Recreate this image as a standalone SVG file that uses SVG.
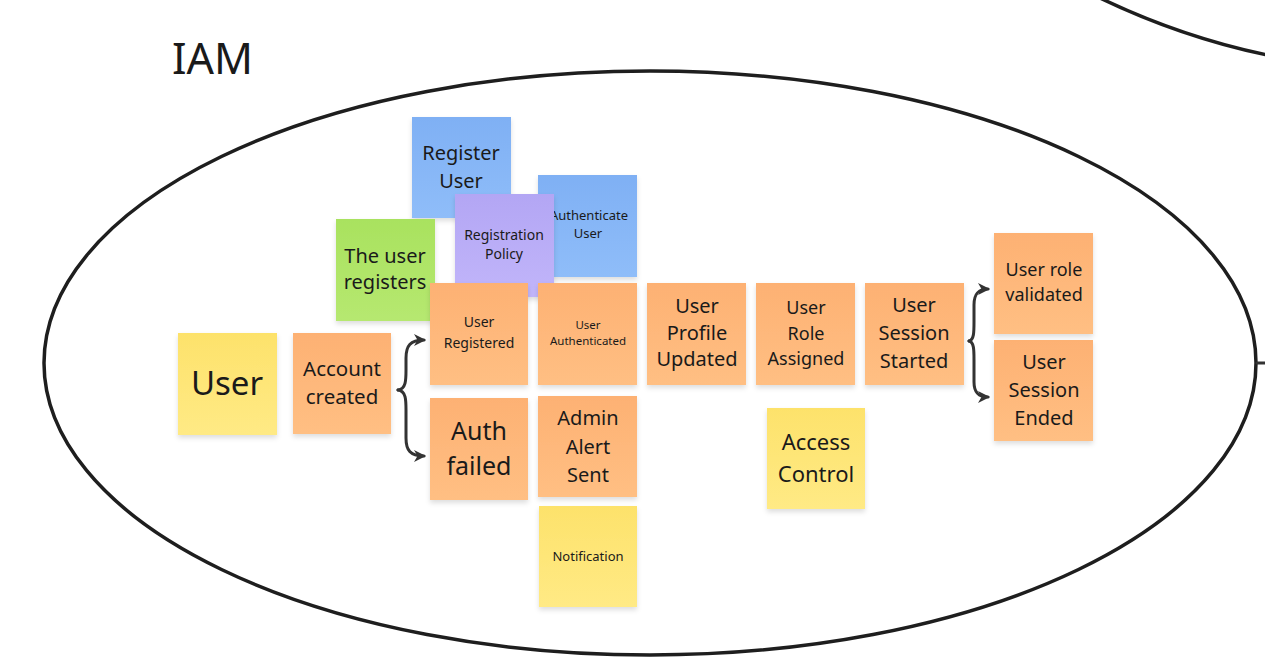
<svg xmlns="http://www.w3.org/2000/svg" width="1265" height="672" viewBox="0 0 1265 672">
<defs>
<linearGradient id="gO" x1="0" y1="0" x2="0" y2="1"><stop offset="0" stop-color="#fdb173"/><stop offset="1" stop-color="#ffbf83"/></linearGradient>
<linearGradient id="gB" x1="0" y1="0" x2="0" y2="1"><stop offset="0" stop-color="#7fb0f4"/><stop offset="1" stop-color="#8fbdf9"/></linearGradient>
<linearGradient id="gP" x1="0" y1="0" x2="0" y2="1"><stop offset="0" stop-color="#b3a6f4"/><stop offset="1" stop-color="#c1b5fa"/></linearGradient>
<linearGradient id="gG" x1="0" y1="0" x2="0" y2="1"><stop offset="0" stop-color="#a9e25f"/><stop offset="1" stop-color="#b6e870"/></linearGradient>
<linearGradient id="gY" x1="0" y1="0" x2="0" y2="1"><stop offset="0" stop-color="#fde26b"/><stop offset="1" stop-color="#ffea85"/></linearGradient>
<filter id="sh" x="-10%" y="-10%" width="130%" height="130%"><feDropShadow dx="0" dy="3" stdDeviation="2.5" flood-color="#000" flood-opacity="0.13"/></filter>
<marker id="ar" viewBox="0 0 12 12" refX="10" refY="6" markerWidth="12" markerHeight="12" markerUnits="userSpaceOnUse" orient="auto"><path d="M0,0 L12,6 L0,12 L3.5,6 z" fill="#333"/></marker>
</defs>
<style>
.s{filter:url(#sh)}
.o{fill:url(#gO)}.b{fill:url(#gB)}.p{fill:url(#gP)}.g{fill:url(#gG)}.y{fill:url(#gY)}
text{font-family:"Noto Sans","Open Sans","Liberation Sans",sans-serif;fill:#1a1a1a;text-anchor:middle}
.ln{fill:none;stroke:#1e1e1e;stroke-width:3.5}
.cn{fill:none;stroke:#333;stroke-width:3;stroke-linecap:round}
</style>
<rect width="1265" height="672" fill="#fff"/>
<g id="boundaries">
<ellipse class="ln" cx="650" cy="363" rx="606" ry="292"/>
<path class="ln" d="M1100,-2 C1150,22 1205,42 1267,55"/>
<text x="172" y="74" style="font-size:43px;text-anchor:start">IAM</text>
</g>
<g id="register-user"><rect class="s b" x="412" y="117" width="99" height="101"/><text x="461" y="160" style="font-size:20px">Register</text><text x="461" y="188" style="font-size:20px">User</text></g>
<g id="authenticate-user"><rect class="s b" x="538" y="175" width="99" height="102"/><text x="589" y="220" style="font-size:13px">Authenticate</text><text x="588" y="238" style="font-size:13px">User</text></g>
<g id="registration-policy"><rect class="s p" x="455" y="194" width="99" height="103"/><text x="504" y="240" style="font-size:14px">Registration</text><text x="504" y="259" style="font-size:14px">Policy</text></g>
<g id="the-user-registers"><rect class="s g" x="336" y="219" width="99" height="102"/><text x="385" y="263" style="font-size:20px">The user</text><text x="385" y="289" style="font-size:20px">registers</text></g>
<g id="user"><rect class="s y" x="178" y="333" width="99" height="102"/><text x="227" y="395" style="font-size:33px">User</text></g>
<g id="account-created"><rect class="s o" x="293" y="333" width="98" height="101"/><text x="342" y="376" style="font-size:20.5px">Account</text><text x="342" y="404" style="font-size:20.5px">created</text></g>
<g id="user-registered"><rect class="s o" x="430" y="283" width="98" height="102"/><text x="479" y="327" style="font-size:14px">User</text><text x="479" y="348" style="font-size:14px">Registered</text></g>
<g id="user-authenticated"><rect class="s o" x="538" y="283" width="99" height="102"/><text x="588" y="329" style="font-size:11.5px">User</text><text x="588" y="345" style="font-size:11.5px">Authenticated</text></g>
<g id="user-profile-updated"><rect class="s o" x="647" y="283" width="99" height="102"/><text x="697" y="313" style="font-size:20px">User</text><text x="697" y="340" style="font-size:20px">Profile</text><text x="697" y="366" style="font-size:20px">Updated</text></g>
<g id="user-role-assigned"><rect class="s o" x="756" y="283" width="99" height="102"/><text x="806" y="314" style="font-size:18px">User</text><text x="806" y="340" style="font-size:18px">Role</text><text x="806" y="365" style="font-size:18px">Assigned</text></g>
<g id="user-session-started"><rect class="s o" x="865" y="283" width="99" height="102"/><text x="914" y="312" style="font-size:20px">User</text><text x="914" y="340" style="font-size:20px">Session</text><text x="914" y="368" style="font-size:20px">Started</text></g>
<g id="user-role-validated"><rect class="s o" x="994" y="233" width="99" height="101"/><text x="1044" y="276" style="font-size:18px">User role</text><text x="1044" y="301" style="font-size:18px">validated</text></g>
<g id="user-session-ended"><rect class="s o" x="994" y="340" width="99" height="101"/><text x="1044" y="369" style="font-size:20px">User</text><text x="1044" y="397" style="font-size:20px">Session</text><text x="1044" y="425" style="font-size:20px">Ended</text></g>
<g id="auth-failed"><rect class="s o" x="430" y="398" width="98" height="102"/><text x="479" y="440" style="font-size:25px">Auth</text><text x="479" y="475" style="font-size:25px">failed</text></g>
<g id="admin-alert-sent"><rect class="s o" x="538" y="396" width="99" height="101"/><text x="588" y="425" style="font-size:20px">Admin</text><text x="588" y="454" style="font-size:20px">Alert</text><text x="588" y="482" style="font-size:20px">Sent</text></g>
<g id="notification"><rect class="s y" x="539" y="506" width="98" height="101"/><text x="588" y="561" style="font-size:13px">Notification</text></g>
<g id="access-control"><rect class="s y" x="767" y="408" width="98" height="101"/><text x="816" y="450" style="font-size:22px">Access</text><text x="816" y="482" style="font-size:22px">Control</text></g>
<g id="connectors">
<path class="cn" marker-end="url(#ar)" d="M398,390 C406,389 406,380 406,370 L406,358 C406,346 410,340 424,340"/>
<path class="cn" marker-end="url(#ar)" d="M398,390 C406,391 406,400 406,410 L406,438 C406,450 410,456 424,456"/>
<path class="cn" marker-end="url(#ar)" d="M969,341 C974,340 974,332 974,322 L974,305 C974,294 978,289 988,289"/>
<path class="cn" marker-end="url(#ar)" d="M969,341 C974,342 974,350 974,360 L974,382 C974,392 978,397 988,397"/>
<path class="cn" d="M1257,363 L1266,363"/>
</g>
</svg>
